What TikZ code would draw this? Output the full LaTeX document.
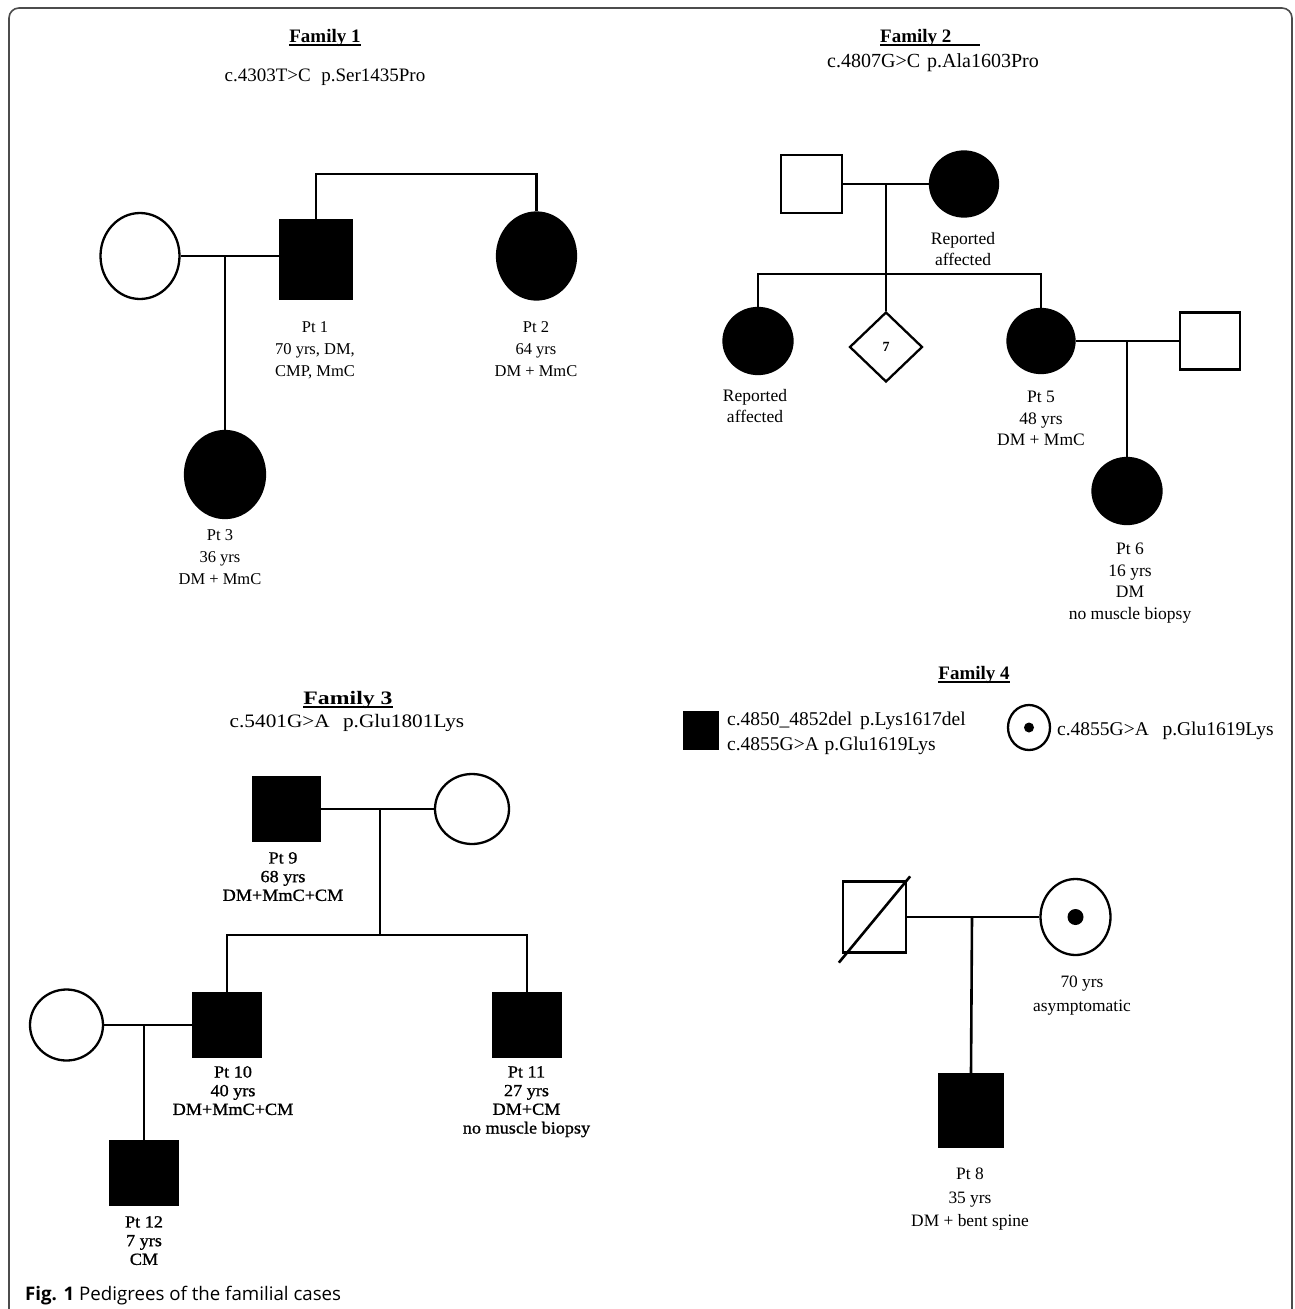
\documentclass[tikz,border=0pt]{standalone}
\usepackage{fontspec}
\setmainfont{Liberation Serif}
\setsansfont{Open Sans}
\newfontfamily\fthreeM[FakeStretch=1.12]{Liberation Serif}
\newfontfamily\fthreeT[FakeStretch=1.25]{Liberation Serif}
\newfontfamily\fthreeL[FakeStretch=1.07,FakeBold=1]{Liberation Serif}
\usetikzlibrary{shapes.geometric,calc}
\newcommand{\fs}[2]{\fontsize{#1}{#2}\selectfont}
\newcommand{\ulbox}[2][0pt]{\setbox0\hbox{#2\hspace*{#1}}\rlap{\rule[-3.5pt]{\wd0}{1.8pt}}\box0}
\tikzset{
  ln/.style={line width=2.6pt},
  sqr/.style={rectangle, draw, line width=2.3pt, inner sep=0pt},
  circ/.style={ellipse, draw, line width=2.3pt, inner sep=0pt},
  aff/.style={fill=black},
  unaff/.style={fill=white},
  labA/.style={align=center, anchor=north, inner sep=0pt, font=\fs{16.5}{22}},
  labB/.style={align=center, anchor=north, inner sep=0pt, font=\fs{17.5}{21.5}},
  labC/.style={align=center, anchor=north, inner sep=0pt, font=\fthreeL\fs{17}{18.7}},
  labD/.style={align=center, anchor=north, inner sep=0pt, font=\fs{17.4}{23.5}},
  ttl/.style={anchor=base, inner sep=0pt, font=\fs{19}{22}\bfseries},
  mut/.style={anchor=base, inner sep=0pt, font=\fs{19}{22}},
  frame/.style={draw=black!70, line width=1.6pt, rounded corners=10pt}
}
\begin{document}
\begin{tikzpicture}[x=1pt,y=-1pt]
\useasboundingbox (0,0) rectangle (1295,1309);
\clip (0,0) rectangle (1295,1309);
\fill[white] (0,0) rectangle (1295,1309);
\draw[frame] (9,1360) rectangle (1292,8);

% ---------------- Family 1
\node[ttl] (t1) at (325,42) {\ulbox{Family 1}};
\node[mut] (mu1) at (325,81) {c.4303T>C\hspace{0.55em}p.Ser1435Pro};
\node[circ, unaff, minimum width=79pt, minimum height=86pt] (f1w) at (140,256) {};
\node[sqr, aff, minimum width=72pt, minimum height=79pt] (pt1) at (316,259.5) {};
\node[circ, aff, minimum width=79pt, minimum height=87pt] (pt2) at (536.5,256) {};
\node[circ, aff, minimum width=80pt, minimum height=87pt] (pt3) at (225,474.5) {};
\draw[ln] (f1w.east) -- (f1w.east -| pt1.west);
\coordinate (m1) at (225,256);
\draw[ln] (m1) -- (pt3.north);
\draw[ln] (pt1.north) -- ++(0,-45) -| (pt2.north);
\node[labA] (pt1l) at (315,321) {Pt 1\\70 yrs, DM,\\CMP, MmC};
\node[labA] (pt2l) at (536,321) {Pt 2\\64 yrs\\DM + MmC};
\node[labA] (pt3l) at (220,529) {Pt 3\\36 yrs\\DM + MmC};

% ---------------- Family 2
\node[ttl, anchor=base west] (t2) at (880,42) {\ulbox[29pt]{Family 2}};
\node[mut, font=\fs{20}{22}] (mu2) at (933,67) {c.4807G>C\hspace{0.35em}p.Ala1603Pro};
\node[sqr, unaff, minimum width=61pt, minimum height=58pt] (f2f) at (811.5,184) {};
\node[circ, aff, minimum width=68pt, minimum height=65pt] (f2m) at (964,184) {};
\draw[ln] (f2f.east) -- (f2m.west);
\node[diamond, draw, line width=2.3pt, fill=white, inner sep=0pt, minimum width=73pt, minimum height=70pt, font=\fs{14}{16}\bfseries] (d7) at (886,347) {7};
\coordinate (m2) at (886,184);
\draw[ln] (m2) -- (d7.north);
\node[circ, aff, minimum width=69pt, minimum height=66pt] (ch1) at (758,341) {};
\node[circ, aff, minimum width=67pt, minimum height=64pt] (pt5) at (1041,341) {};
\draw[ln] (ch1.north) -- ++(0,-33) -| (pt5.north);
\node[sqr, unaff, minimum width=60pt, minimum height=57pt] (sp2) at (1210,341) {};
\draw[ln] (pt5.east) -- (sp2.west);
\node[circ, aff, minimum width=69pt, minimum height=66pt] (pt6) at (1127,491) {};
\coordinate (m3) at (1127,341);
\draw[ln] (m3) -- (pt6.north);
\node[labB] (f2ml) at (963,232) {Reported\\affected};
\node[labB] (ch1l) at (755,389) {Reported\\affected};
\node[labB] (pt5l) at (1041,391) {Pt 5\\48 yrs\\DM + MmC};
\node[labB] (pt6l) at (1130,543) {Pt 6\\16 yrs\\DM\\no muscle biopsy};

% ---------------- Family 3
\node[ttl, font=\fthreeT\fs{19}{22}\bfseries] (t3) at (348,704.5) {\ulbox{Family 3}};
\node[mut, font=\fthreeM\fs{19}{22}] (mu3) at (347,727) {c.5401G>A\hspace{0.7em}p.Glu1801Lys};
\node[sqr, aff, minimum width=67pt, minimum height=64pt] (pt9) at (286.5,809) {};
\node[circ, unaff, minimum width=74pt, minimum height=70pt] (f3w) at (472,809) {};
\draw[ln] (pt9.east) -- (f3w.west);
\coordinate (m4) at (380,809);
\coordinate (s4) at (380,936);
\draw[ln] (m4) -- (s4);
\node[sqr, aff, minimum width=67pt, minimum height=64pt] (pt10) at (227,1025) {};
\node[sqr, aff, minimum width=68pt, minimum height=64pt] (pt11) at (527,1025) {};
\draw[ln] (pt10.north) -- ++(0,-57) -| (pt11.north);
\node[circ, unaff, minimum width=73pt, minimum height=71pt] (f3s) at (66.5,1025) {};
\draw[ln] (f3s.east) -- (pt10.west);
\node[sqr, aff, minimum width=67pt, minimum height=64pt] (pt12) at (144,1173) {};
\coordinate (m5) at (144,1025);
\draw[ln] (m5) -- (pt12.north);
\node[labC] (pt9l) at (283,852) {Pt 9\\68 yrs\\DM+MmC+CM};
\node[labC] (pt10l) at (233,1066) {Pt 10\\40 yrs\\DM+MmC+CM};
\node[labC] (pt11l) at (526.5,1066) {Pt 11\\27 yrs\\DM+CM\\no muscle biopsy};
\node[labC] (pt12l) at (144,1216) {Pt 12\\7 yrs\\CM};

% ---------------- Family 4
\node[ttl] (t4) at (974,679) {\ulbox{Family 4}};
\node[rectangle, aff, inner sep=0pt, minimum width=36pt, minimum height=39pt] (lg1) at (701,730.5) {};
\node[anchor=base west, inner sep=0pt, font=\fs{19.5}{22}] (lg1a) at (727,725) {c.4850\_4852del\hspace{0.4em}p.Lys1617del};
\node[anchor=base west, inner sep=0pt, font=\fs{19.5}{22}] (lg1b) at (727,750) {c.4855G>A\hspace{0.3em}p.Glu1619Lys};
\node[circ, unaff, minimum width=42pt, minimum height=45pt] (lg2) at (1029,727.5) {};
\fill (lg2.center) circle (5);
\node[anchor=base west, inner sep=0pt, font=\fs{19.5}{22}] (lg2t) at (1057,735) {c.4855G>A\hspace{0.7em}p.Glu1619Lys};
\node[sqr, unaff, minimum width=63pt, minimum height=71pt] (dec) at (874.5,917) {};
\draw[line width=2.6pt] ($(dec.south west)+(-3,9)$) -- ($(dec.north east)+(3,-4)$);
\node[circ, unaff, minimum width=70pt, minimum height=76pt] (car) at (1075.5,917) {};
\fill (car.center) circle (8);
\draw[ln] (dec.east) -- (car.west);
\coordinate (m6) at (972,917);
\node[sqr, aff, minimum width=63pt, minimum height=73pt] (pt8) at (971,1110.5) {};
\draw[ln] (m6) -- (pt8.north);
\node[labD] (carl) at (1082,976) {70 yrs\\asymptomatic};
\node[labD] (pt8l) at (970,1168) {Pt 8\\35 yrs\\DM + bent spine};

% ---------------- caption
\node[anchor=base west, inner sep=0pt, font=\sffamily\fs{18.7}{20}] (cap) at (25,1300) {\textbf{Fig. 1} Pedigrees of the familial cases};
\end{tikzpicture}
\end{document}
